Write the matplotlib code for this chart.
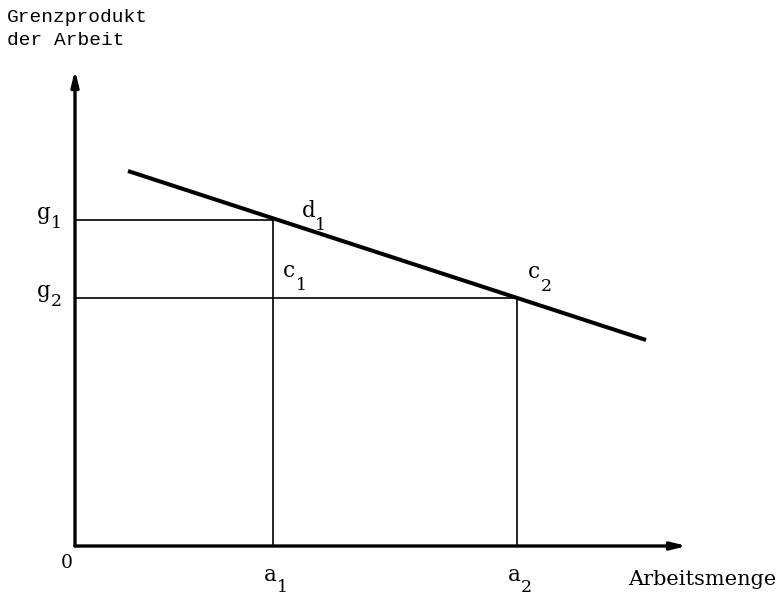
import matplotlib.pyplot as plt

# Grenzprodukt der Arbeit (sinkende Gerade), Werte in Diagramm-Einheiten
curve_x = [5.3, 57.1]
curve_y = [37.5, 20.6]

a_vals = [19.8, 44.2]
a_labels = ["a", "a"]
a_subs = ["1", "2"]

g_vals = [32.6, 24.8]
g_labels = ["g", "g"]
g_subs = ["1", "2"]

point_labels = ["d", "c", "c"]
point_subs = ["1", "1", "2"]
point_x = [22.7, 20.8, 45.3]
point_y = [32.9, 26.9, 26.8]

SERIF = ["DejaVu Serif"]
MONO = ["Liberation Mono", "DejaVu Sans Mono"]

fig = plt.figure(figsize=(7.78, 5.97), dpi=100)
ax = fig.add_axes([0, 0, 1, 1])
ax.set_xlim(-7.5, 70.3)
ax.set_ylim(-5.1, 54.6)
ax.axis("off")

# axes with arrows
arrow = dict(arrowstyle="-|>,head_length=0.9,head_width=0.22",
             lw=2.4, color="black", shrinkA=0, shrinkB=0)
ax.annotate("", xy=(0, 47.6), xytext=(0, 0), arrowprops=arrow)
ax.annotate("", xy=(61.2, 0), xytext=(0, 0), arrowprops=arrow)

# curve
ax.plot(curve_x, curve_y, color="black", lw=2.9, solid_capstyle="butt")

# helper lines
for a, g in zip(a_vals, g_vals):
    ax.plot([0, a], [g, g], color="black", lw=1.2)
    ax.plot([a, a], [0, g], color="black", lw=1.2)

def sublabel(x, y, main, sub, dx=1.25, dy=-1.2):
    ax.text(x, y, main, fontsize=15.5, family=SERIF, ha="left", va="baseline")
    ax.text(x + dx, y + dy, sub, fontsize=12.5, family=SERIF, ha="left", va="baseline")

for a, m, s in zip(a_vals, a_labels, a_subs):
    sublabel(a - 0.9, -3.5, m, s, dx=1.3, dy=-1.05)
for g, m, s in zip(g_vals, g_labels, g_subs):
    sublabel(-3.8, g + 0.1, m, s, dx=1.35, dy=-0.9)
for x, y, m, s in zip(point_x, point_y, point_labels, point_subs):
    sublabel(x, y, m, s, dy=-1.3)

ax.text(-1.4, -2.2, "0", fontsize=13.5, family=SERIF, ha="left", va="baseline")
ax.text(55.3, -3.9, "Arbeitsmenge", fontsize=15, family=SERIF, ha="left", va="baseline")
ax.text(-6.8, 52.4, "Grenzprodukt", fontsize=14, family=MONO, ha="left", va="baseline")
ax.text(-6.8, 50.1, "der Arbeit", fontsize=14, family=MONO, ha="left", va="baseline")

fig.savefig("out.png", dpi=100)
